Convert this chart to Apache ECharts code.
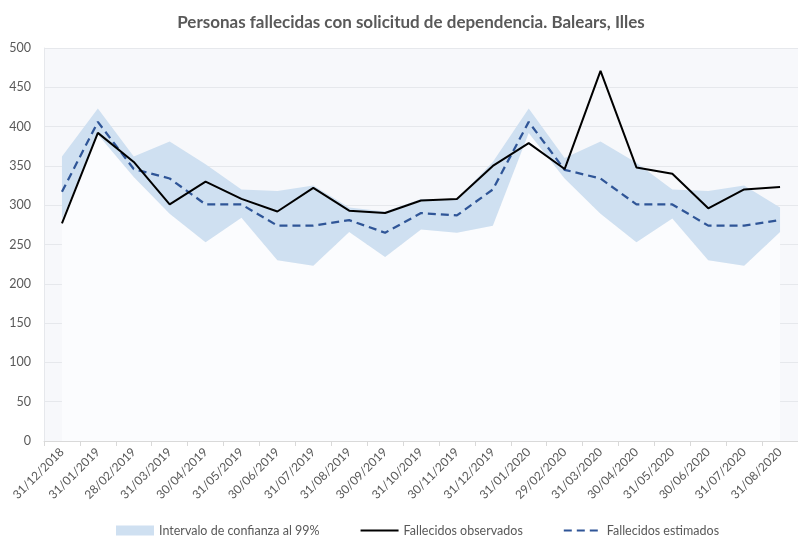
<!DOCTYPE html>
<html>
<head>
<meta charset="utf-8">
<script src="https://cdn.jsdelivr.net/npm/echarts@6/dist/echarts.min.js"></script>
<style>
  html, body { margin: 0; padding: 0; background: #ffffff; }
  #chart { width: 798px; height: 539px; }
</style>
</head>
<body>
<div id="chart"></div>
<script>
// Monthly dates (end of month)
var fechas = ['31/12/2018','31/01/2019','28/02/2019','31/03/2019','30/04/2019','31/05/2019','30/06/2019',
  '31/07/2019','31/08/2019','30/09/2019','31/10/2019','30/11/2019','31/12/2019','31/01/2020','29/02/2020',
  '31/03/2020','30/04/2020','31/05/2020','30/06/2020','31/07/2020','31/08/2020'];

// Observed deaths
var observados = [277, 392, 355, 301, 330, 308, 292, 322, 293, 290, 306, 308, 350, 379, 346, 471, 348, 340, 296, 320, 323];

// Estimated deaths
var estimados = [317, 406, 346, 334, 301, 301, 274, 274, 281, 265, 290, 287, 320, 406, 345, 334, 301, 301, 274, 274, 281];

// 99% confidence interval bounds
var limiteSuperior = [362, 423, 362, 381, 352, 320, 318, 325, 297, 292, 308, 308, 355, 423, 360, 381, 354, 320, 318, 325, 297];
var limiteInferior = [282, 390, 336, 289, 253, 284, 230, 223, 266, 234, 269, 265, 274, 392, 334, 289, 253, 283, 230, 223, 266];

// Y axis ticks
var yMin = 0, yMax = 500, yPaso = 50;

var anchoBanda = limiteSuperior.map(function (v, i) { return v - limiteInferior[i]; });

var chart = echarts.init(document.getElementById('chart'), null, { renderer: 'canvas' });
var textColor = '#595959';
var font = 'Lato, "Open Sans", sans-serif';
var sinMarcador = { color: 'transparent', borderColor: 'transparent', borderWidth: 0 };

chart.setOption({
  animation: false,
  backgroundColor: '#ffffff',
  title: {
    text: 'Personas fallecidas con solicitud de dependencia. Balears, Illes',
    left: 406, top: 9, textAlign: 'center',
    textStyle: { color: textColor, fontSize: 17, fontWeight: 'bold', fontFamily: font }
  },
  grid: {
    left: 44, right: -8, top: 48, bottom: 98,
    show: true, backgroundColor: '#f7f8fb', borderWidth: 0
  },
  legend: {
    bottom: -3, left: 111, itemGap: 40, itemWidth: 38, itemHeight: 10,
    textStyle: { color: textColor, fontSize: 12.5, fontFamily: font },
    data: [
      { name: 'Intervalo de confianza al 99%', icon: 'rect' },
      { name: 'Fallecidos observados', itemStyle: sinMarcador },
      { name: 'Fallecidos estimados', itemStyle: sinMarcador }
    ]
  },
  xAxis: {
    type: 'category', data: fechas, boundaryGap: true,
    axisLine: { lineStyle: { color: '#d9d9d9' } },
    axisTick: { show: true, length: 5, lineStyle: { color: '#d9d9d9' } },
    axisLabel: { rotate: 45, color: textColor, fontSize: 12, fontFamily: font, interval: 0, margin: 9 }
  },
  yAxis: {
    type: 'value', min: yMin, max: yMax, interval: yPaso,
    axisLine: { show: true, lineStyle: { color: '#e6e8ec' } },
    axisTick: { show: false },
    splitLine: { lineStyle: { color: '#e6e8ec' } },
    axisLabel: { color: textColor, fontSize: 12.5, fontFamily: font, margin: 13 }
  },
  series: [
    {
      name: 'base', type: 'line', stack: 'ic', data: limiteInferior,
      symbol: 'none', silent: true, lineStyle: { width: 0 },
      areaStyle: { color: '#fbfcfe', opacity: 1 }, z: 1
    },
    {
      name: 'Intervalo de confianza al 99%', type: 'line', stack: 'ic', data: anchoBanda,
      symbol: 'none', lineStyle: { width: 0 }, itemStyle: { color: '#cfe0f1' },
      areaStyle: { color: '#cfe0f1', opacity: 1 }, z: 1
    },
    {
      name: 'Fallecidos observados', type: 'line', data: observados,
      symbol: 'none', itemStyle: { color: '#000000' },
      lineStyle: { color: '#000000', width: 2 }, z: 3
    },
    {
      name: 'Fallecidos estimados', type: 'line', data: estimados,
      symbol: 'none', itemStyle: { color: '#2f5597' },
      lineStyle: { color: '#2f5597', width: 2.25, type: [8, 5] }, z: 2
    }
  ]
});
</script>
</body>
</html>
